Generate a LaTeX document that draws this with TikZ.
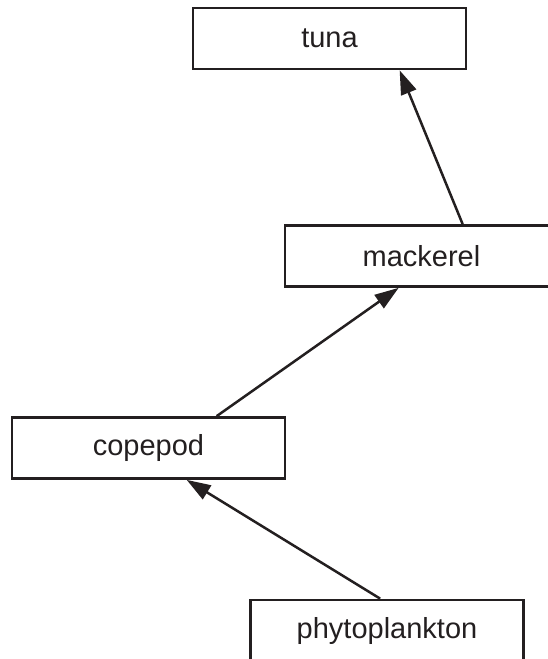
\documentclass[tikz,border=0pt]{standalone}
\usepackage{fontspec}
\setmainfont{Liberation Sans}
\usetikzlibrary{arrows.meta}
\definecolor{ink}{HTML}{231F20}
\begin{document}
\begin{tikzpicture}[x=1pt,y=-1pt,
  box/.style={draw=ink,line width=2.7pt,minimum width=273pt,minimum height=61pt,inner sep=0pt,
    font=\fontsize{29}{34}\selectfont,text=ink},
  link/.style={draw=ink,line width=2.5pt,-{Triangle[length=24pt,width=16pt]}}]
\useasboundingbox (0,0) rectangle (547,659);
\node[box] (tuna) at (329.5,38.5) {tuna};
\node[box] (mackerel) at (421.5,256) {mackerel};
\node[box] (copepod) at (148.5,448) {copepod};
\node[box] (phyto) at (387,630.5) {phytoplankton};
\draw[link] ([xshift=179pt]mackerel.north west) -- ([xshift=208pt]tuna.south west);
\draw[link] ([xshift=206pt]copepod.north west) -- ([xshift=115pt]mackerel.south west);
\draw[link] ([xshift=131pt]phyto.north west) -- ([xshift=176pt]copepod.south west);
\end{tikzpicture}
\end{document}
